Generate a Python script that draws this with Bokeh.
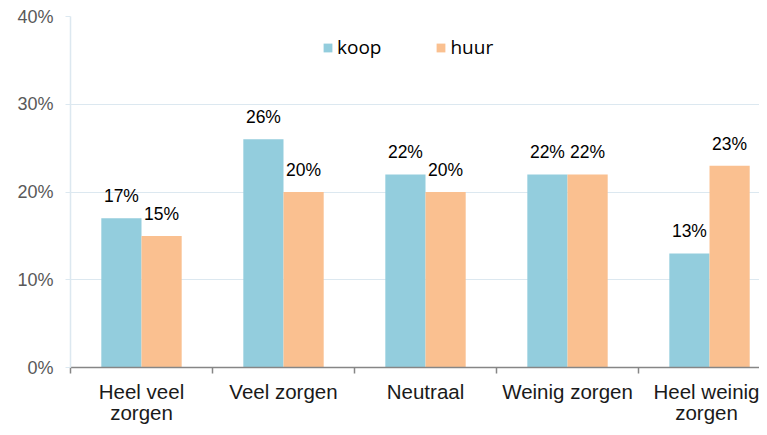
from bokeh.plotting import figure
from bokeh.models import Range1d, FixedTicker, PrintfTickFormatter, ColumnDataSource, Legend, LegendItem
from bokeh.core.properties import value
from bokeh.embed import file_html
from bokeh.resources import INLINE
import numpy as np

categories = ["Heel veel\nzorgen", "Veel zorgen", "Neutraal", "Weinig zorgen", "Heel weinig\nzorgen"]
koop = [17, 26, 22, 22, 13]
huur = [15, 20, 20, 22, 23]
y_ticks = [0, 10, 20, 30, 40]

BLUE = "#93CDDD"
ORANGE = "#FAC090"
GRID = "#DCE8F0"
FONT = "Liberation Sans"

n = len(categories)
centers = np.arange(n) + 0.5
bw = 0.283
off = bw / 2

p = figure(width=759, height=427, output_backend="svg", toolbar_location=None,
           x_range=Range1d(0, 4.852), y_range=Range1d(0, 40),
           min_border_left=70, min_border_top=16, min_border_bottom=57, min_border_right=0)
p.outline_line_color = None
p.background_fill_color = "white"
p.border_fill_color = "white"

src_k = ColumnDataSource(dict(x=centers - off, top=koop, lab=[f"{v}%" for v in koop]))
src_h = ColumnDataSource(dict(x=centers + off, top=huur, lab=[f"{v}%" for v in huur]))

rk = p.vbar(x="x", top="top", width=bw, source=src_k, fill_color=BLUE, line_color=None)
rh = p.vbar(x="x", top="top", width=bw, source=src_h, fill_color=ORANGE, line_color=None)

for src in (src_k, src_h):
    p.text(x="x", y="top", text="lab", source=src, text_align="center",
           text_baseline="alphabetic", y_offset=-22, text_font=value(FONT),
           text_font_size="17.5px", text_color="#000000")

# x axis: labels at category centres, ticks at category boundaries
xa = p.xaxis[0]
xa.ticker = FixedTicker(ticks=list(centers), minor_ticks=list(range(n + 1)))
xa.major_label_overrides = {float(c): lab for c, lab in zip(centers, categories)}
xa.major_tick_line_color = None
xa.major_tick_out = 0
xa.major_tick_in = 0
xa.minor_tick_out = 6
xa.minor_tick_in = 0
xa.minor_tick_line_color = "#868686"
xa.minor_tick_line_width = 1.5
xa.axis_line_color = "#868686"
xa.axis_line_width = 1.5
xa.major_label_text_font = FONT
xa.major_label_text_font_size = "20.5px"
xa.major_label_text_line_height = 0.95
xa.major_label_text_color = "#1a1a1a"
xa.major_label_standoff = 6

# y axis
ya = p.yaxis[0]
ya.ticker = FixedTicker(ticks=y_ticks, minor_ticks=[])
ya.formatter = PrintfTickFormatter(format="%d%%")
ya.axis_line_color = GRID
ya.axis_line_width = 1.5
ya.major_tick_line_color = GRID
ya.major_tick_out = 5
ya.major_tick_in = 0
ya.minor_tick_line_color = None
ya.major_label_text_font = FONT
ya.major_label_text_font_size = "18px"
ya.major_label_text_color = "#595959"
ya.major_label_standoff = 12

p.xgrid.grid_line_color = None
p.ygrid.grid_line_color = GRID
p.ygrid.grid_line_width = 1.2
p.ygrid.ticker = FixedTicker(ticks=y_ticks)

legend = Legend(items=[LegendItem(label="koop", renderers=[rk]),
                       LegendItem(label="huur", renderers=[rh])],
                location=(252, 307), orientation="horizontal",
                glyph_width=11, glyph_height=11, label_standoff=4, spacing=54,
                padding=0, margin=0, border_line_color=None, background_fill_alpha=0,
                label_text_font="Open Sans", label_text_font_size="19px",
                label_text_color="#000000")
p.add_layout(legend, "center")

open("out.html", "w").write(file_html(p, INLINE))
